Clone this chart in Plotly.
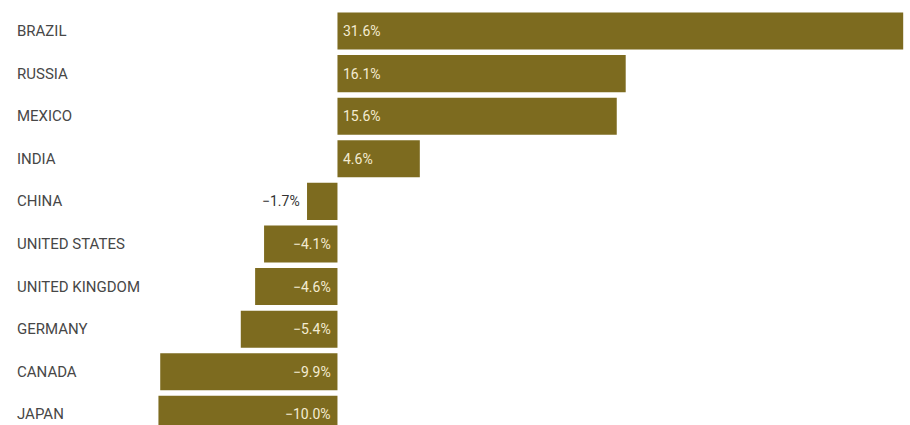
import plotly.graph_objects as go

countries = ["BRAZIL", "RUSSIA", "MEXICO", "INDIA", "CHINA", "UNITED STATES",
             "UNITED KINGDOM", "GERMANY", "CANADA", "JAPAN"]
changes = [31.6, 16.1, 15.6, 4.6, -1.7, -4.1, -4.6, -5.4, -9.9, -10.0]
value_labels = ["31.6%", "16.1%", "15.6%", "4.6%", "\u22121.7%", "\u22124.1%",
                "\u22124.6%", "\u22125.4%", "\u22129.9%", "\u221210.0%"]

BAR = "#7d6b1f"
FONT = "Roboto, sans-serif"

fig = go.Figure(go.Bar(
    x=changes, y=countries, orientation="h",
    marker=dict(color=BAR, line=dict(width=0)),
    hoverinfo="skip",
))

annotations = []
for c, v, lab in zip(countries, changes, value_labels):
    # country name on the left edge
    annotations.append(dict(
        x=0, xref="paper", xshift=15, xanchor="left",
        y=c, yref="y", text=c, showarrow=False,
        font=dict(family=FONT, size=15, color="#474747"),
    ))
    if v >= 0:
        annotations.append(dict(
            x=0, xref="x", xshift=4, xanchor="left", y=c, yref="y",
            text=lab, showarrow=False,
            font=dict(family=FONT, size=14, color="#f4ecd2"),
        ))
    elif v > -3:
        # short bar: value sits outside, left of the bar
        annotations.append(dict(
            x=v, xref="x", xshift=-5, xanchor="right", y=c, yref="y",
            text=lab, showarrow=False,
            font=dict(family=FONT, size=14, color="#333333"),
        ))
    else:
        annotations.append(dict(
            x=0, xref="x", xshift=-4, xanchor="right", y=c, yref="y",
            text=lab, showarrow=False,
            font=dict(family=FONT, size=14, color="#f4ecd2"),
        ))

fig.update_layout(
    width=910, height=425,
    margin=dict(l=0, r=0, t=0, b=0),
    paper_bgcolor="white", plot_bgcolor="white",
    bargap=0.13,
    showlegend=False,
    xaxis=dict(range=[-18.85, 31.98], visible=False, fixedrange=True),
    yaxis=dict(range=[9.25, -0.728], visible=False, fixedrange=True),
    annotations=annotations,
)

fig.write_html("out.html", config={"displayModeBar": False})
